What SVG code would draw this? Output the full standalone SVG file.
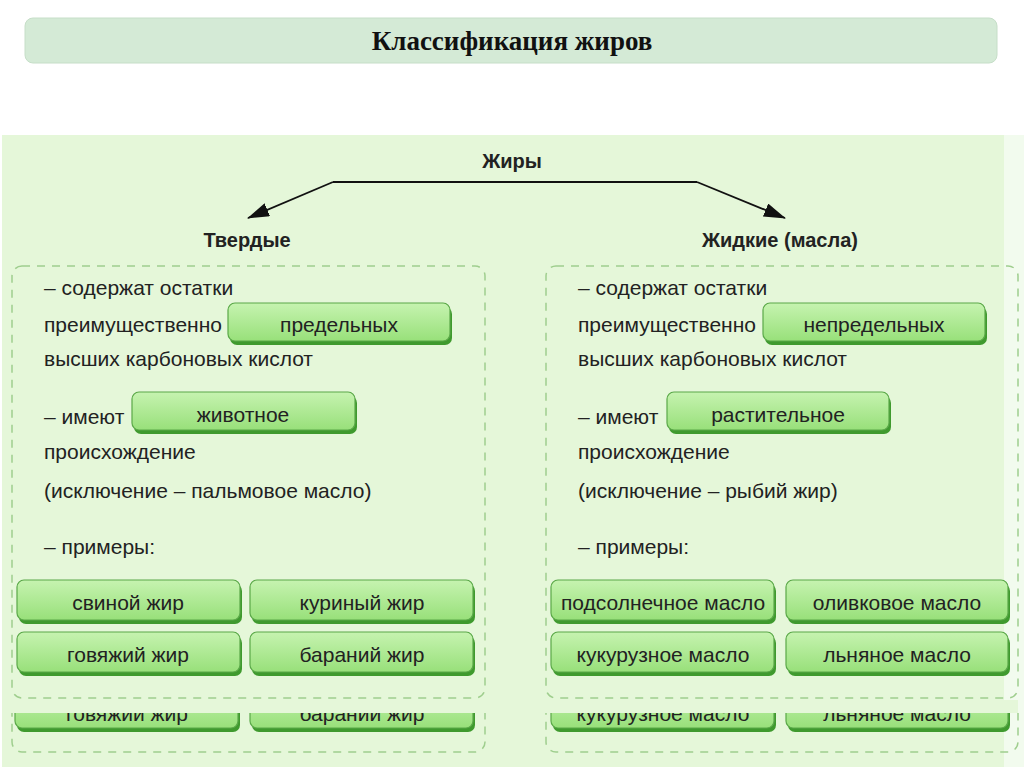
<svg xmlns="http://www.w3.org/2000/svg" width="1024" height="767" viewBox="0 0 1024 767">
<defs>
<linearGradient id="pg" x1="0" y1="0" x2="0" y2="1"><stop offset="0" stop-color="#c6f3b0"/><stop offset="1" stop-color="#98e07a"/></linearGradient>
<marker id="ah" markerWidth="22" markerHeight="14" refX="21" refY="7" orient="auto" markerUnits="userSpaceOnUse"><path d="M0,0 L22,7 L0,14 z" fill="#111"/></marker>
<clipPath id="ghost"><rect x="0" y="713" width="1024" height="54"/></clipPath>
<style>
.t{font-family:"Liberation Sans",Arial,sans-serif;font-size:21px;fill:#222}
.h{font-family:"Liberation Sans",Arial,sans-serif;font-size:20px;font-weight:bold;fill:#222}
.pt{font-family:"Liberation Sans",Arial,sans-serif;font-size:21px;fill:#222;text-anchor:middle}
.sh{fill:#3f9a2e}
.p{fill:url(#pg);stroke:#5aa848;stroke-width:1.2}
.db{fill:none;stroke:#9fce8e;stroke-width:1.5;stroke-dasharray:8 7}
</style>
</defs>
<rect width="1024" height="767" fill="#fff"/>
<g id="title"><rect x="25" y="18" width="972" height="45" rx="8" fill="#d4ead6" stroke="#c6dec8"/>
<text x="512" y="50" text-anchor="middle" font-family="Liberation Serif,serif" font-weight="bold" font-size="27" fill="#111">Классификация жиров</text></g>
<rect x="2" y="135" width="1022" height="632" fill="#e5f7d9"/>
<rect x="1004" y="135" width="20" height="632" fill="#f2fbee"/>
<g id="connectors" stroke="#111" stroke-width="1.8" fill="none">
<path d="M333,182 L697,182"/>
<path d="M333,182 L248,218" marker-end="url(#ah)"/>
<path d="M697,182 L785,218" marker-end="url(#ah)"/>
</g>
<g id="root"><text class="h" x="512" y="168" text-anchor="middle">Жиры</text></g>
<g id="ghost-boxes" clip-path="url(#ghost)">
<rect class="db" x="12" y="300" width="473" height="452" rx="10"/>
<rect class="db" x="546" y="300" width="472" height="452" rx="10"/>
<rect class="sh" x="17" y="692" width="223" height="40" rx="7"/><rect class="p" x="15" y="688" width="223" height="40" rx="7"/><text class="pt" x="127" y="721">говяжий жир</text>
<rect class="sh" x="252" y="692" width="223" height="40" rx="7"/><rect class="p" x="250" y="688" width="223" height="40" rx="7"/><text class="pt" x="362" y="721">бараний жир</text>
<rect class="sh" x="553" y="692" width="223" height="40" rx="7"/><rect class="p" x="551" y="688" width="223" height="40" rx="7"/><text class="pt" x="663" y="721">кукурузное масло</text>
<rect class="sh" x="788" y="692" width="222" height="40" rx="7"/><rect class="p" x="786" y="688" width="222" height="40" rx="7"/><text class="pt" x="897" y="721">льняное масло</text>
</g>
<rect x="12" y="700" width="1006" height="13" fill="#e5f7d9"/>
<g id="solid">
<text class="h" x="247" y="247" text-anchor="middle">Твердые</text>
<rect class="db" x="12" y="266" width="473" height="432" rx="10"/>
<text class="t" x="44" y="295">– содержат остатки</text>
<text class="t" x="44" y="332">преимущественно</text>
<rect class="sh" x="230" y="307" width="222" height="38" rx="7"/><rect class="p" x="228" y="303" width="222" height="38" rx="7"/><text class="pt" x="339" y="332">предельных</text>
<text class="t" x="44" y="366">высших карбоновых кислот</text>
<text class="t" x="44" y="424">– имеют</text>
<rect class="sh" x="134" y="396" width="223" height="38" rx="7"/><rect class="p" x="132" y="392" width="223" height="38" rx="7"/><text class="pt" x="243" y="422">животное</text>
<text class="t" x="44" y="459">происхождение</text>
<text class="t" x="44" y="498">(исключение – пальмовое масло)</text>
<text class="t" x="44" y="554">– примеры:</text>
<rect class="sh" x="19" y="584" width="223" height="40" rx="7"/><rect class="p" x="17" y="580" width="223" height="40" rx="7"/><text class="pt" x="128" y="610">свиной жир</text>
<rect class="sh" x="252" y="584" width="223" height="40" rx="7"/><rect class="p" x="250" y="580" width="223" height="40" rx="7"/><text class="pt" x="362" y="610">куриный жир</text>
<rect class="sh" x="19" y="636" width="223" height="40" rx="7"/><rect class="p" x="17" y="632" width="223" height="40" rx="7"/><text class="pt" x="128" y="662">говяжий жир</text>
<rect class="sh" x="252" y="636" width="223" height="40" rx="7"/><rect class="p" x="250" y="632" width="223" height="40" rx="7"/><text class="pt" x="362" y="662">бараний жир</text>
</g>
<g id="liquid">
<text class="h" x="780" y="247" text-anchor="middle">Жидкие (масла)</text>
<rect class="db" x="546" y="266" width="472" height="432" rx="10"/>
<text class="t" x="578" y="295">– содержат остатки</text>
<text class="t" x="578" y="332">преимущественно</text>
<rect class="sh" x="765" y="307" width="222" height="38" rx="7"/><rect class="p" x="763" y="303" width="222" height="38" rx="7"/><text class="pt" x="874" y="332">непредельных</text>
<text class="t" x="578" y="366">высших карбоновых кислот</text>
<text class="t" x="578" y="424">– имеют</text>
<rect class="sh" x="669" y="396" width="222" height="38" rx="7"/><rect class="p" x="667" y="392" width="222" height="38" rx="7"/><text class="pt" x="778" y="422">растительное</text>
<text class="t" x="578" y="459">происхождение</text>
<text class="t" x="578" y="498">(исключение – рыбий жир)</text>
<text class="t" x="578" y="554">– примеры:</text>
<rect class="sh" x="553" y="584" width="223" height="40" rx="7"/><rect class="p" x="551" y="580" width="223" height="40" rx="7"/><text class="pt" x="663" y="610">подсолнечное масло</text>
<rect class="sh" x="788" y="584" width="222" height="40" rx="7"/><rect class="p" x="786" y="580" width="222" height="40" rx="7"/><text class="pt" x="897" y="610">оливковое масло</text>
<rect class="sh" x="553" y="636" width="223" height="40" rx="7"/><rect class="p" x="551" y="632" width="223" height="40" rx="7"/><text class="pt" x="663" y="662">кукурузное масло</text>
<rect class="sh" x="788" y="636" width="222" height="40" rx="7"/><rect class="p" x="786" y="632" width="222" height="40" rx="7"/><text class="pt" x="897" y="662">льняное масло</text>
</g>
</svg>
